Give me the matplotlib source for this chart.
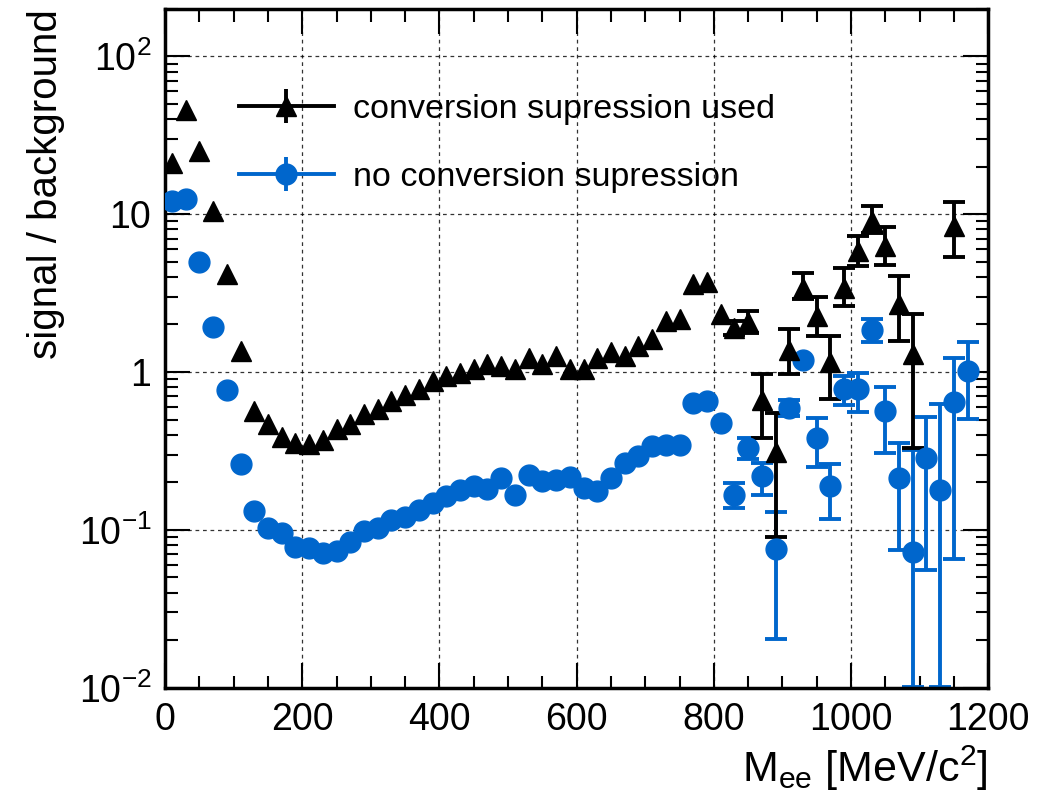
import matplotlib
matplotlib.use("Agg")
import matplotlib.pyplot as plt
import numpy as np
from matplotlib.ticker import FixedLocator, MultipleLocator, LogLocator, NullFormatter, FuncFormatter

plt.rcParams['font.family'] = ['Liberation Sans', 'DejaVu Sans']
plt.rcParams['mathtext.fontset'] = 'custom'
plt.rcParams['mathtext.rm'] = 'Liberation Sans'
plt.rcParams['mathtext.it'] = 'Liberation Sans:italic'

# conversion supression used (black triangles)
mass_conv = [10, 30, 50, 70, 90, 110, 130, 150, 170, 190, 210, 230, 250, 270, 290,
             310, 330, 350, 370, 390, 410, 430, 450, 470, 490, 510, 530, 550, 570, 590,
             610, 630, 650, 670, 690, 710, 730, 750, 770, 790, 810, 830, 850, 870, 890,
             910, 930, 950, 970, 990, 1010, 1030, 1050, 1070, 1090, 1150]
sb_conv = [21, 46, 25, 10.5, 4.2, 1.36, 0.565, 0.47, 0.39, 0.356, 0.348, 0.37, 0.437, 0.466, 0.54,
           0.58, 0.655, 0.72, 0.78, 0.877, 0.94, 0.99, 1.04, 1.12, 1.09, 1.04, 1.23, 1.12, 1.26, 1.04,
           1.04, 1.23, 1.33, 1.26, 1.46, 1.61, 2.11, 2.16, 3.6, 3.7, 2.32, 1.91, 2.06, 0.66, 0.31,
           1.37, 3.43, 2.27, 1.15, 3.43, 5.86, 9.1, 6.3, 2.69, 1.30, 8.47]
# errors hidden behind the marker are left at 0
err_lo_conv = [0, 0, 0, 0, 0, 0, 0, 0, 0, 0, 0, 0, 0, 0, 0,
               0, 0, 0, 0, 0, 0, 0, 0, 0, 0, 0, 0, 0, 0, 0,
               0, 0, 0, 0, 0, 0, 0, 0, 0, 0, 0, 0.2, 0.3, 0.28, 0.22,
               0.40, 0.54, 0.58, 0.48, 0.80, 1.16, 1.5, 1.53, 1.12, 0.97, 3.14]
err_hi_conv = [0, 0, 0, 0, 0, 0, 0, 0, 0, 0, 0, 0, 0, 0, 0,
               0, 0, 0, 0, 0, 0, 0, 0, 0, 0, 0, 0, 0, 0, 0,
               0, 0, 0, 0, 0, 0, 0, 0, 0, 0, 0, 0.2, 0.38, 0.31, 0.24,
               0.50, 0.80, 0.70, 0.53, 1.10, 1.44, 2.1, 2.0, 1.34, 1.03, 3.43]

# no conversion supression (blue circles)
mass_noconv = [10, 30, 50, 70, 90, 110, 130, 150, 170, 190, 210, 230, 250, 270, 290,
               310, 330, 350, 370, 390, 410, 430, 450, 470, 490, 510, 530, 550, 570, 590,
               610, 630, 650, 670, 690, 710, 730, 750, 770, 790, 810, 830, 850, 870, 890,
               910, 930, 950, 970, 990, 1010, 1030, 1050, 1070, 1090, 1110, 1130, 1150, 1170]
sb_noconv = [12.2, 12.4, 4.96, 1.94, 0.77, 0.262, 0.131, 0.103, 0.095, 0.078, 0.077, 0.071, 0.074, 0.084, 0.098,
             0.103, 0.116, 0.121, 0.134, 0.147, 0.163, 0.178, 0.191, 0.182, 0.213, 0.167, 0.224, 0.203, 0.206, 0.217,
             0.185, 0.176, 0.213, 0.266, 0.293, 0.339, 0.347, 0.343, 0.64, 0.655, 0.472, 0.167, 0.331, 0.218, 0.0755,
             0.594, 1.19, 0.38, 0.191, 0.784, 0.776, 1.85, 0.565, 0.213, 0.072, 0.286, 0.180, 0.645, 1.01]
err_lo_noconv = [0, 0, 0, 0, 0, 0, 0, 0, 0, 0, 0, 0, 0, 0, 0,
                 0, 0, 0, 0, 0, 0, 0, 0, 0, 0, 0, 0, 0, 0, 0,
                 0, 0, 0, 0, 0, 0, 0, 0, 0, 0, 0, 0.029, 0.049, 0.051, 0.055,
                 0.068, 0, 0.13, 0.074, 0.17, 0.22, 0.31, 0.26, 0.138, 0.0619, 0.23, 0.1699, 0.58, 0.504]
err_hi_noconv = [0, 0, 0, 0, 0, 0, 0, 0, 0, 0, 0, 0, 0, 0, 0,
                 0, 0, 0, 0, 0, 0, 0, 0, 0, 0, 0, 0, 0, 0, 0,
                 0, 0, 0, 0, 0, 0, 0, 0, 0, 0, 0, 0.031, 0.05, 0.048, 0.055,
                 0.07, 0, 0.13, 0.072, 0.16, 0.21, 0.33, 0.24, 0.14, 0.248, 0.234, 0.444, 0.585, 0.53]

blue = "#0066cc"

fig = plt.figure(figsize=(10.39, 7.96), dpi=100)
ax = fig.add_axes([0.159, 0.136, 0.792, 0.853])


def draw(mass, vals, lo, hi, marker, color, ms):
    mass, vals, lo, hi = map(np.asarray, (mass, vals, lo, hi))
    vis = (lo + hi) > 0
    ax.errorbar(mass[vis], vals[vis], yerr=[lo[vis], hi[vis]], fmt="none", ecolor=color,
                elinewidth=2.8, capsize=8, capthick=2.8, zorder=2)
    ax.plot(mass, vals, linestyle="none", marker=marker, ms=ms, color=color, zorder=3)


draw(mass_noconv, sb_noconv, err_lo_noconv, err_hi_noconv, "o", blue, 15)
draw(mass_conv, sb_conv, err_lo_conv, err_hi_conv, "^", "black", 15)

# legend proxies (line + marker + vertical error line)
h_conv = ax.errorbar([np.nan], [np.nan], yerr=[1], fmt="-^", color="black", ms=15, lw=2.8,
                     elinewidth=2.8, capsize=0)
h_noconv = ax.errorbar([np.nan], [np.nan], yerr=[1], fmt="-o", color=blue, ms=15, lw=2.8,
                       elinewidth=2.8, capsize=0)

ax.set_yscale("log")
ax.set_xlim(0, 1200)
ax.set_ylim(0.01, 200)

ax.xaxis.set_major_locator(MultipleLocator(200))
ax.xaxis.set_minor_locator(MultipleLocator(50))
ax.yaxis.set_major_locator(FixedLocator([0.01, 0.1, 1, 10, 100]))
ax.yaxis.set_minor_locator(LogLocator(base=10, subs=np.arange(2, 10)))
ax.yaxis.set_minor_formatter(NullFormatter())
ylabels = {0.01: r"$10^{-2}$", 0.1: r"$10^{-1}$", 1: "1", 10: "10", 100: r"$10^{2}$"}
ax.yaxis.set_major_formatter(FuncFormatter(lambda v, p: ylabels.get(round(v, 3), "")))

ax.tick_params(which="both", direction="in", top=True, right=True, labelsize=27, width=1.5)
ax.tick_params(which="major", length=18, pad=10)
ax.tick_params(which="minor", length=9)
for s in ax.spines.values():
    s.set_linewidth(2.5)

ax.grid(True, which="major", linestyle=(0, (3, 3)), color="black", linewidth=0.9, alpha=0.8)

ax.set_ylabel("signal / background", fontsize=29, loc="top", labelpad=10)
ax.set_xlabel(r"M$_{\rm ee}$ [MeV/c$^{2}$]", fontsize=31, loc="right", labelpad=4)

ax.legend([h_conv, h_noconv], ["conversion supression used", "no conversion supression"],
          loc="upper left", bbox_to_anchor=(0.052, 0.92), frameon=False, fontsize=24.5,
          handlelength=2.8, labelspacing=1.1, handletextpad=0.55)

fig.savefig("out.png", dpi=100)
